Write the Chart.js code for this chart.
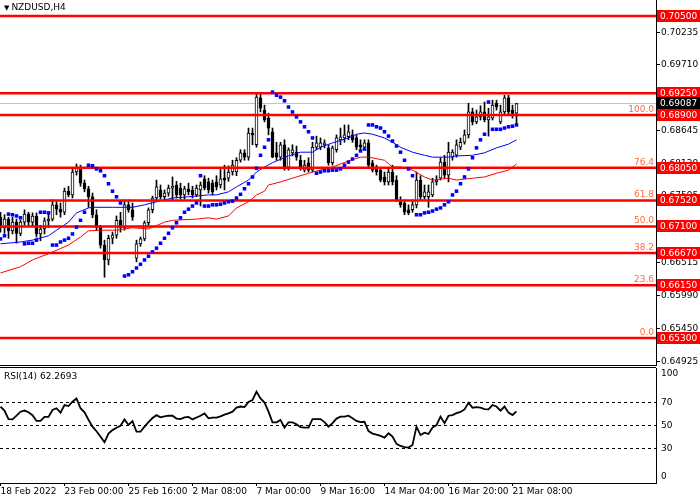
<!DOCTYPE html>
<html>
<head>
<meta charset="utf-8">
<title>NZDUSD,H4</title>
<script src="https://cdn.jsdelivr.net/npm/chart.js@4.4.1/dist/chart.umd.min.js"></script>
<style>
  html, body { margin: 0; padding: 0; background: #fff; }
  #wrap { position: relative; width: 700px; height: 500px; overflow: hidden; font-family: "DejaVu Sans", sans-serif; }
  canvas { position: absolute; left: 0; }
  #price { top: 0; }
  #rsi { top: 366px; }
  .caption { position: absolute; left: 4px; font-size: 9px; line-height: 11px; color: #000; white-space: nowrap; }
  #title { top: 2px; }
  #title span { font-size: 7px; margin-right: 2px; }
  #rsiTitle { top: 371px; }
</style>
</head>
<body>
<div id="wrap">
  <canvas id="price" width="700" height="366"></canvas>
  <canvas id="rsi" width="700" height="134"></canvas>
  <div id="title" class="caption"><span>▼</span>NZDUSD,H4</div>
  <div id="rsiTitle" class="caption">RSI(14) 62.2693</div>
</div>
<script>
// H4 bars from 18 Feb 2022 08:00, one entry per bar
const opens = [
  0.6725, 0.6708, 0.6722, 0.6703, 0.6717, 0.6699, 0.6717, 0.6730, 0.6717, 0.6727,
  0.6698, 0.6706, 0.6719, 0.6722, 0.6745, 0.6738, 0.6733, 0.6767, 0.6761, 0.6798,
  0.6804, 0.6780, 0.6771, 0.6758, 0.6729, 0.6709, 0.6680, 0.6656, 0.6691, 0.6696,
  0.6720, 0.6708, 0.6745, 0.6737, 0.6659, 0.6682, 0.6690, 0.6716, 0.6737, 0.6756,
  0.6769, 0.6758, 0.6764, 0.6772, 0.6777, 0.6772, 0.6761, 0.6771, 0.6769, 0.6761,
  0.6769, 0.6787, 0.6782, 0.6780, 0.6782, 0.6777, 0.6788, 0.6788, 0.6798, 0.6798,
  0.6817, 0.6829, 0.6822, 0.6861, 0.6842, 0.6918, 0.6898, 0.6885, 0.6863, 0.6829,
  0.6822, 0.6842, 0.6806, 0.6829, 0.6830, 0.6817, 0.6801, 0.6813, 0.6801, 0.6838,
  0.6838, 0.6842, 0.6837, 0.6813, 0.6834, 0.6850, 0.6853, 0.6855, 0.6858, 0.6853,
  0.6842, 0.6838, 0.6845, 0.6813, 0.6804, 0.6801, 0.6790, 0.6782, 0.6798, 0.6785,
  0.6750, 0.6748, 0.6737, 0.6737, 0.6745, 0.6785, 0.6758, 0.6758, 0.6761, 0.6782,
  0.6788, 0.6814, 0.6793, 0.6822, 0.6825, 0.6838, 0.6846, 0.6858, 0.6895, 0.6879,
  0.6887, 0.6895, 0.6882, 0.6885, 0.6909, 0.6879, 0.6895, 0.6918, 0.6898, 0.6893
];
const highs = [
  0.6733, 0.6729, 0.6725, 0.6725, 0.6722, 0.6720, 0.6737, 0.6733, 0.6732, 0.6732,
  0.6712, 0.6724, 0.6730, 0.6753, 0.6750, 0.6748, 0.6772, 0.6775, 0.6804, 0.6811,
  0.6809, 0.6785, 0.6775, 0.6764, 0.6737, 0.6712, 0.6688, 0.6696, 0.6701, 0.6727,
  0.6733, 0.6753, 0.6753, 0.6748, 0.6688, 0.6693, 0.6719, 0.6740, 0.6759, 0.6785,
  0.6777, 0.6769, 0.6777, 0.6790, 0.6783, 0.6780, 0.6775, 0.6780, 0.6775, 0.6777,
  0.6782, 0.6792, 0.6788, 0.6785, 0.6792, 0.6804, 0.6809, 0.6808, 0.6817, 0.6821,
  0.6834, 0.6834, 0.6869, 0.6869, 0.6926, 0.6924, 0.6906, 0.6893, 0.6869, 0.6846,
  0.6846, 0.6850, 0.6837, 0.6842, 0.6840, 0.6825, 0.6817, 0.6821, 0.6846, 0.6856,
  0.6853, 0.6850, 0.6842, 0.6840, 0.6858, 0.6869, 0.6874, 0.6874, 0.6866, 0.6858,
  0.6850, 0.6850, 0.6850, 0.6817, 0.6809, 0.6804, 0.6798, 0.6804, 0.6809, 0.6792,
  0.6758, 0.6753, 0.6745, 0.6753, 0.6798, 0.6792, 0.6777, 0.6777, 0.6788, 0.6792,
  0.6821, 0.6825, 0.6846, 0.6834, 0.6850, 0.6853, 0.6866, 0.6909, 0.6901, 0.6898,
  0.6905, 0.6911, 0.6901, 0.6914, 0.6914, 0.6906, 0.6922, 0.6922, 0.6906, 0.6909
];
const lows = [
  0.6701, 0.6699, 0.6691, 0.6698, 0.6683, 0.6695, 0.6712, 0.6711, 0.6711, 0.6693,
  0.6687, 0.6698, 0.6708, 0.6719, 0.6729, 0.6725, 0.6729, 0.6758, 0.6756, 0.6793,
  0.6775, 0.6766, 0.6741, 0.6724, 0.6704, 0.6675, 0.6628, 0.6648, 0.6682, 0.6691,
  0.6701, 0.6704, 0.6733, 0.6720, 0.6653, 0.6678, 0.6687, 0.6711, 0.6732, 0.6753,
  0.6754, 0.6753, 0.6759, 0.6753, 0.6756, 0.6754, 0.6754, 0.6761, 0.6756, 0.6758,
  0.6743, 0.6769, 0.6764, 0.6761, 0.6769, 0.6772, 0.6769, 0.6783, 0.6793, 0.6792,
  0.6814, 0.6817, 0.6817, 0.6842, 0.6838, 0.6895, 0.6879, 0.6858, 0.6821, 0.6817,
  0.6817, 0.6801, 0.6801, 0.6824, 0.6817, 0.6801, 0.6798, 0.6798, 0.6798, 0.6834,
  0.6834, 0.6837, 0.6809, 0.6809, 0.6830, 0.6842, 0.6846, 0.6850, 0.6846, 0.6834,
  0.6834, 0.6837, 0.6804, 0.6798, 0.6793, 0.6782, 0.6777, 0.6777, 0.6777, 0.6750,
  0.6741, 0.6729, 0.6729, 0.6733, 0.6740, 0.6753, 0.6754, 0.6741, 0.6758, 0.6777,
  0.6785, 0.6788, 0.6782, 0.6817, 0.6822, 0.6834, 0.6843, 0.6853, 0.6874, 0.6876,
  0.6882, 0.6879, 0.6856, 0.6882, 0.6898, 0.6876, 0.6890, 0.6890, 0.6885, 0.6876
];
const closes = [
  0.6708, 0.6722, 0.6703, 0.6717, 0.6699, 0.6717, 0.6730, 0.6717, 0.6727, 0.6698,
  0.6706, 0.6719, 0.6722, 0.6745, 0.6738, 0.6733, 0.6767, 0.6761, 0.6798, 0.6804,
  0.6780, 0.6771, 0.6758, 0.6729, 0.6709, 0.6680, 0.6656, 0.6691, 0.6696, 0.6720,
  0.6708, 0.6745, 0.6737, 0.6725, 0.6682, 0.6690, 0.6716, 0.6737, 0.6756, 0.6774,
  0.6758, 0.6764, 0.6772, 0.6775, 0.6761, 0.6761, 0.6771, 0.6766, 0.6761, 0.6772,
  0.6777, 0.6772, 0.6769, 0.6766, 0.6774, 0.6787, 0.6785, 0.6798, 0.6809, 0.6817,
  0.6829, 0.6822, 0.6861, 0.6858, 0.6919, 0.6901, 0.6882, 0.6869, 0.6822, 0.6822,
  0.6842, 0.6804, 0.6834, 0.6834, 0.6822, 0.6804, 0.6809, 0.6801, 0.6838, 0.6845,
  0.6845, 0.6845, 0.6813, 0.6837, 0.6853, 0.6855, 0.6858, 0.6863, 0.6850, 0.6838,
  0.6838, 0.6845, 0.6809, 0.6801, 0.6798, 0.6785, 0.6782, 0.6798, 0.6782, 0.6753,
  0.6745, 0.6733, 0.6732, 0.6745, 0.6785, 0.6758, 0.6766, 0.6766, 0.6782, 0.6785,
  0.6814, 0.6793, 0.6830, 0.6830, 0.6842, 0.6846, 0.6858, 0.6895, 0.6879, 0.6887,
  0.6895, 0.6882, 0.6887, 0.6906, 0.6903, 0.6895, 0.6918, 0.6895, 0.6890, 0.69087
];

// Parabolic SAR, one dot per bar
const sar = [
  0.6690, 0.6695, 0.6730, 0.6729, 0.6727, 0.6724, 0.6682, 0.6683, 0.6683, 0.6688,
  0.6733, 0.6733, 0.6732, 0.6680, 0.6680, 0.6685, 0.6688, 0.6691, 0.6698, 0.6709,
  0.6720, 0.6733, 0.6809, 0.6808, 0.6803, 0.6800, 0.6792, 0.6779, 0.6767, 0.6758,
  0.6748, 0.6630, 0.6632, 0.6637, 0.6643, 0.6649, 0.6656, 0.6662, 0.6669, 0.6675,
  0.6683, 0.6691, 0.6699, 0.6708, 0.6716, 0.6724, 0.6733, 0.6738, 0.6743, 0.6748,
  0.6792, 0.6743, 0.6743, 0.6745, 0.6745, 0.6746, 0.6748, 0.6750, 0.6751, 0.6756,
  0.6762, 0.6771, 0.6779, 0.6790, 0.6804, 0.6825, 0.6838, 0.6850, 0.6927, 0.6922,
  0.6919, 0.6913, 0.6903, 0.6895, 0.6887, 0.6879, 0.6871, 0.6863, 0.6853, 0.6796,
  0.6798, 0.6800, 0.6800, 0.6801, 0.6801, 0.6803, 0.6809, 0.6814, 0.6819, 0.6825,
  0.6832, 0.6835, 0.6874, 0.6874, 0.6871, 0.6869, 0.6863, 0.6856, 0.6848, 0.6840,
  0.6830, 0.6817, 0.6803, 0.6792, 0.6729, 0.6729, 0.6732, 0.6733, 0.6735, 0.6738,
  0.6740, 0.6745, 0.6750, 0.6761, 0.6767, 0.6779, 0.6790, 0.6803, 0.6821, 0.6837,
  0.6850, 0.6859, 0.6911, 0.6867, 0.6867, 0.6867, 0.6869, 0.6871, 0.6872, 0.6874
];

const maBlueBars = [0, 5, 8, 12, 14, 17, 19, 22, 23, 28, 33, 36, 41, 43, 47, 52, 54, 57, 59, 62, 64, 66, 68, 72, 75, 78, 80, 83, 87, 89, 91, 93, 96, 98, 100, 103, 106, 108, 112, 114, 118, 121, 124, 127, 129];
const maBlue = [
  0.6682, 0.6685, 0.6688, 0.6695, 0.6704, 0.6717, 0.6732, 0.6740, 0.6741, 0.6741,
  0.6741, 0.6745, 0.6753, 0.6756, 0.6758, 0.6761, 0.6761, 0.6766, 0.6774, 0.6785,
  0.6798, 0.6806, 0.6813, 0.6824, 0.6830, 0.6830, 0.6838, 0.6845, 0.6853, 0.6859,
  0.6861, 0.6859, 0.6853, 0.6846, 0.6838, 0.6830, 0.6825, 0.6822, 0.6822, 0.6824,
  0.6825, 0.6829, 0.6837, 0.6843, 0.6850
];
const maRedBars = [0, 5, 8, 12, 17, 20, 22, 25, 29, 33, 37, 41, 43, 49, 52, 54, 57, 59, 62, 64, 66, 67, 70, 73, 78, 83, 87, 90, 92, 96, 98, 100, 103, 106, 108, 112, 114, 118, 121, 124, 127, 129];
const maRed = [
  0.6635, 0.6645, 0.6656, 0.6666, 0.6680, 0.6693, 0.6703, 0.6704, 0.6704, 0.6708,
  0.6706, 0.6717, 0.6720, 0.6722, 0.6724, 0.6722, 0.6727, 0.6740, 0.6750, 0.6761,
  0.6767, 0.6777, 0.6782, 0.6788, 0.6798, 0.6806, 0.6816, 0.6822, 0.6822, 0.6817,
  0.6806, 0.6806, 0.6801, 0.6790, 0.6785, 0.6788, 0.6785, 0.6788, 0.6790, 0.6796,
  0.6801, 0.6811
];

// RSI(14), one value per bar
const rsi = [
  66.4, 63, 55.5, 55.3, 58.5, 62, 63, 61.5, 59, 54,
  54, 57.5, 57.5, 63.5, 65, 61.2, 67.8, 66.9, 70.7, 73.5,
  65, 61.5, 55, 49, 45, 40.3, 35.4, 43, 46, 48,
  49.8, 55.3, 50.5, 53.9, 44.6, 44.6, 49, 53, 56.5, 59,
  57.1, 58, 58.5, 58.5, 56, 55.5, 57, 57.5, 55.3, 57,
  58.5, 60.5, 56.2, 56.8, 56.8, 58, 59.5, 60.5, 62, 65.5,
  66.5, 66, 70.5, 72.2, 79.4, 73.6, 70, 62, 52.8, 52.8,
  54.8, 48.2, 52.8, 52.8, 51, 48.5, 48.2, 48.2, 55.6, 55.6,
  55.6, 53, 49, 52, 56, 57.7, 57.8, 58.5, 56.2, 54,
  52.9, 53.2, 45.2, 43, 42, 41, 39.5, 43.2, 40.3, 34,
  32.2, 31.2, 30.8, 33, 49, 41.7, 43.8, 42.6, 48.2, 50.4,
  57.7, 52, 58.5, 59, 60.8, 61.8, 64, 69.8, 65.5, 66,
  65.5, 64.3, 64.1, 67.8, 66.5, 62.9, 66.5, 61.2, 59.1, 62.27
];

const levels = [0.7050, 0.6925, 0.6890, 0.6805, 0.6752, 0.6710, 0.6667, 0.6615, 0.6530];
const fibValues = [0.6890, 0.6805, 0.6752, 0.6710, 0.6667, 0.6615, 0.6530];
const fibLabels = ['100.0', '76.4', '61.8', '50.0', '38.2', '23.6', '0.0'];
const bidPrice = 0.69087;
const priceTicks = [0.70235, 0.69710, 0.69185, 0.68645, 0.68120, 0.67595, 0.67055, 0.66515, 0.65990, 0.65450, 0.64925];
const rsiLevels = [70, 50, 30];
const rsiTicks = [100, 70, 50, 30, 0];
const dateBars = [0, 16, 32, 48, 64, 80, 96, 112, 128];
const dateLabels = ['18 Feb 2022', '23 Feb 00:00', '25 Feb 16:00', '2 Mar 08:00', '7 Mar 00:00', '9 Mar 16:00', '14 Mar 04:00', '16 Mar 20:00', '21 Mar 08:00'];

const xMin = -0.125;
const xMax = 163.875;
const priceMin = 0.64847;
const priceMax = 0.70758;
const FONT = '9px "DejaVu Sans"';

const hLine = (value) => [{ x: xMin, y: value }, { x: xMax, y: value }];

// price boxes, fibonacci captions and the window border
const priceLabels = {
    id: 'priceLabels',
    afterDraw(chart) {
        const { ctx, chartArea, scales: { y } } = chart;
        ctx.save();
        ctx.font = FONT;

        ctx.fillStyle = '#ff6a3a';
        ctx.textAlign = 'right';
        ctx.textBaseline = 'bottom';
        fibValues.forEach((v, k) => {
            ctx.fillText(fibLabels[k], chartArea.right - 2, y.getPixelForValue(v) - 1);
        });

        ctx.textAlign = 'left';
        ctx.textBaseline = 'middle';
        const box = (v, bg) => {
            const py = Math.round(y.getPixelForValue(v));
            ctx.fillStyle = bg;
            ctx.fillRect(chartArea.right + 1, py - 6, 43, 12);
            ctx.fillStyle = '#fff';
            ctx.fillText(v.toFixed(5), chartArea.right + 4, py + 0.5);
        };
        levels.forEach(v => box(v, '#ff0000'));
        box(bidPrice, '#000');

        ctx.strokeStyle = '#000';
        ctx.lineWidth = 1;
        ctx.beginPath();
        ctx.moveTo(0, chartArea.bottom - 0.5);
        ctx.lineTo(chartArea.right, chartArea.bottom - 0.5);
        ctx.stroke();
        ctx.restore();
    }
};

const rsiLabels = {
    id: 'rsiLabels',
    afterDraw(chart) {
        const { ctx, chartArea, scales: { y } } = chart;
        ctx.save();
        ctx.font = FONT;
        ctx.fillStyle = '#000';
        ctx.textAlign = 'left';
        rsiTicks.forEach(v => {
            let py = y.getPixelForValue(v);
            if (v === 100) { ctx.textBaseline = 'top'; py += 1; }
            else if (v === 0) { ctx.textBaseline = 'bottom'; py -= 2; }
            else ctx.textBaseline = 'middle';
            ctx.fillText(String(v), chartArea.right + 5, py);
        });
        ctx.strokeStyle = '#000';
        ctx.lineWidth = 1;
        ctx.beginPath();
        ctx.moveTo(0, 1.5);
        ctx.lineTo(chartArea.right, 1.5);
        ctx.stroke();
        ctx.restore();
    }
};

const priceDatasets = [
    {
        type: 'scatter',
        data: sar.map((v, i) => ({ x: i, y: v })),
        pointStyle: 'rect',
        pointRadius: 2.5,
        backgroundColor: '#0000ff',
        borderWidth: 0,
        showLine: false,
        order: 0
    },
    ...levels.map(v => ({
        type: 'line',
        data: hLine(v),
        borderColor: '#ff0000',
        borderWidth: 2.5,
        pointRadius: 0,
        order: 1
    })),
    {
        type: 'line',
        data: maBlueBars.map((b, k) => ({ x: b, y: maBlue[k] })),
        borderColor: '#0000ff',
        borderWidth: 1,
        pointRadius: 0,
        tension: 0,
        order: 2
    },
    {
        type: 'line',
        data: maRedBars.map((b, k) => ({ x: b, y: maRed[k] })),
        borderColor: '#ff0000',
        borderWidth: 1,
        pointRadius: 0,
        tension: 0,
        order: 2
    },
    {
        type: 'bar',
        data: opens.map((o, i) => ({ x: i, y: [o, closes[i]] })),
        backgroundColor: opens.map((o, i) => closes[i] >= o ? '#ffffff' : '#000000'),
        borderColor: '#000',
        borderWidth: 1,
        borderSkipped: false,
        barThickness: 3,
        grouped: false,
        order: 3
    },
    {
        type: 'bar',
        data: lows.map((l, i) => ({ x: i, y: [l, highs[i]] })),
        backgroundColor: '#000',
        borderWidth: 0,
        barThickness: 1,
        grouped: false,
        order: 4
    },
    {
        type: 'line',
        data: hLine(bidPrice),
        borderColor: '#c0c0c0',
        borderWidth: 1,
        pointRadius: 0,
        order: 5
    }
];

new Chart(document.getElementById('price'), {
    type: 'bar',
    data: { datasets: priceDatasets },
    plugins: [priceLabels],
    options: {
        responsive: false,
        animation: false,
        events: [],
        layout: { padding: 0, autoPadding: false },
        plugins: { legend: { display: false }, tooltip: { enabled: false } },
        scales: {
            x: {
                type: 'linear',
                min: xMin,
                max: xMax,
                offset: false,
                display: false,
                grid: { offset: false }
            },
            y: {
                type: 'linear',
                position: 'right',
                min: priceMin,
                max: priceMax,
                afterBuildTicks: s => { s.ticks = priceTicks.map(v => ({ value: v })); },
                afterFit: s => {
                    s.width = 44;
                    s.paddingTop = 0;
                    s.paddingBottom = 0;
                },
                ticks: {
                    callback: v => v.toFixed(5),
                    color: '#000',
                    font: { family: 'DejaVu Sans', size: 9 },
                    padding: 1,
                    autoSkip: false
                },
                grid: { drawOnChartArea: false, drawTicks: true, tickLength: 4, color: '#000' },
                border: { display: true, color: '#000' }
            }
        }
    }
});

new Chart(document.getElementById('rsi'), {
    type: 'line',
    data: {
        datasets: [
            {
                data: rsi.map((v, i) => ({ x: i, y: v })),
                borderColor: '#000',
                borderWidth: 1.8,
                pointRadius: 0,
                tension: 0,
                order: 0
            },
            ...rsiLevels.map(v => ({
                data: hLine(v),
                borderColor: '#000',
                borderWidth: 1,
                borderDash: [3, 3],
                pointRadius: 0,
                order: 1
            }))
        ]
    },
    plugins: [rsiLabels],
    options: {
        responsive: false,
        animation: false,
        events: [],
        layout: { padding: { top: 2, left: 0, right: 0, bottom: 0 }, autoPadding: false },
        plugins: { legend: { display: false }, tooltip: { enabled: false } },
        scales: {
            x: {
                type: 'linear',
                position: 'bottom',
                min: xMin,
                max: xMax,
                offset: false,
                afterBuildTicks: s => { s.ticks = dateBars.map(v => ({ value: v })); },
                afterFit: s => {
                    s.height = 17;
                    s.paddingLeft = 0;
                    s.paddingRight = 0;
                },
                ticks: {
                    callback: v => dateLabels[dateBars.indexOf(v)],
                    align: 'start',
                    autoSkip: false,
                    maxRotation: 0,
                    minRotation: 0,
                    padding: 0,
                    color: '#000',
                    font: { family: 'DejaVu Sans', size: 9 }
                },
                grid: { drawOnChartArea: false, drawTicks: true, tickLength: 3, color: '#000' },
                border: { display: true, color: '#000' }
            },
            y: {
                type: 'linear',
                position: 'right',
                min: 0,
                max: 100,
                afterFit: s => { s.width = 44; },
                ticks: { display: false },
                grid: { display: false },
                border: { display: true, color: '#000' }
            }
        }
    }
});
</script>
</body>
</html>
